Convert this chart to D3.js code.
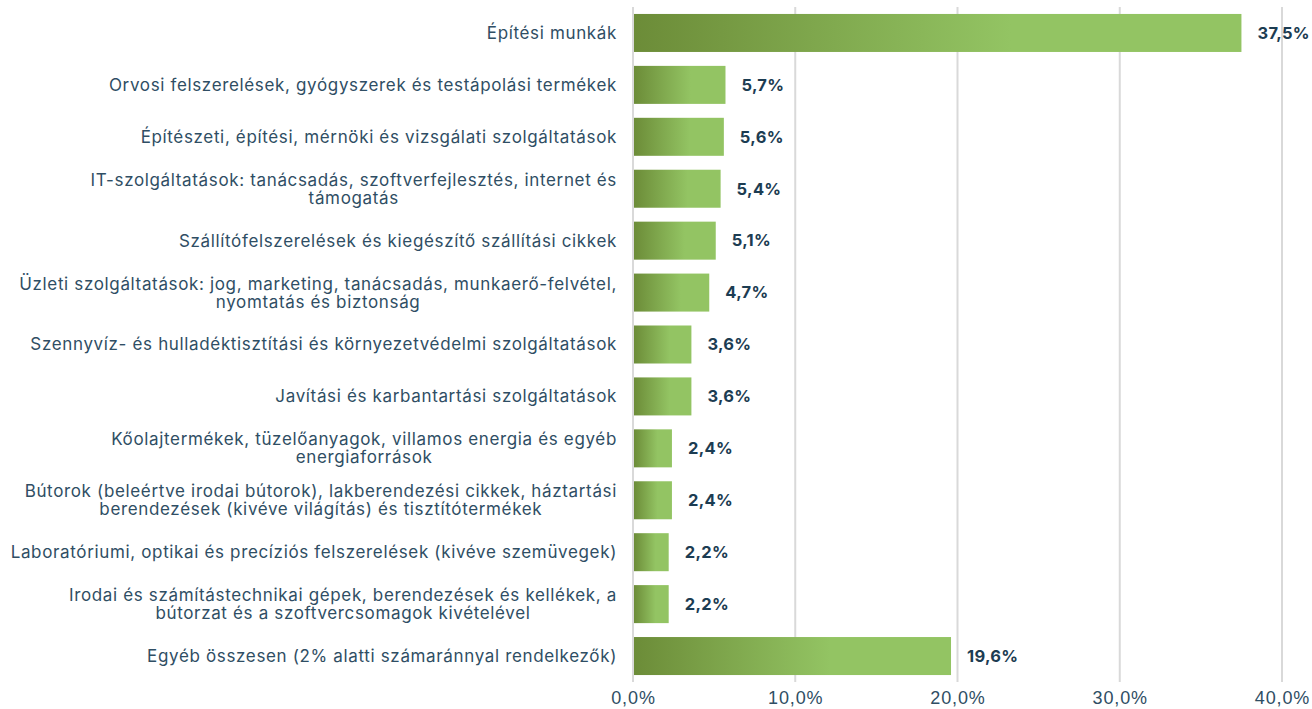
<!DOCTYPE html>
<html>
<head>
<meta charset="utf-8">
<script src="https://cdn.jsdelivr.net/npm/d3@7"></script>
<style>
    body { margin: 0; background: #fff; }
    svg { display: block; font-family: "Inter", "Roboto", sans-serif; }
    .grid line { stroke: #d9d9d9; stroke-width: 2; }
    .cat text { fill: #2f4e64; font-size: 17px; letter-spacing: 0.65px; }
    .val { fill: #1c3c52; font-size: 16.5px; font-weight: 700; letter-spacing: 0.3px; }
    .x-axis text { fill: #2f4e64; font-size: 18px; letter-spacing: 0.9px; }
</style>
</head>
<body>
<svg id="chart" width="1312" height="709"></svg>
<script>
// categories, one string per bar, "\n" marks a line break
var categories = [
    "Építési munkák",
    "Orvosi felszerelések, gyógyszerek és testápolási termékek",
    "Építészeti, építési, mérnöki és vizsgálati szolgáltatások",
    "IT-szolgáltatások: tanácsadás, szoftverfejlesztés, internet és\ntámogatás",
    "Szállítófelszerelések és kiegészítő szállítási cikkek",
    "Üzleti szolgáltatások: jog, marketing, tanácsadás, munkaerő-felvétel,\nnyomtatás és biztonság",
    "Szennyvíz- és hulladéktisztítási és környezetvédelmi szolgáltatások",
    "Javítási és karbantartási szolgáltatások",
    "Kőolajtermékek, tüzelőanyagok, villamos energia és egyéb\nenergiaforrások",
    "Bútorok (beleértve irodai bútorok), lakberendezési cikkek, háztartási\nberendezések (kivéve világítás) és tisztítótermékek",
    "Laboratóriumi, optikai és precíziós felszerelések (kivéve szemüvegek)",
    "Irodai és számítástechnikai gépek, berendezések és kellékek, a\nbútorzat és a szoftvercsomagok kivételével",
    "Egyéb összesen (2% alatti számaránnyal rendelkezők)"
];
var shares = [37.5, 5.7, 5.6, 5.4, 5.1, 4.7, 3.6, 3.6, 2.4, 2.4, 2.2, 2.2, 19.6];
var xTicks = [0, 10, 20, 30, 40];

var svg = d3.select("#chart");

var x = d3.scaleLinear().domain([0, 40]).range([633, 1282]);
var y = d3.scaleBand()
    .domain(d3.range(categories.length))
    .range([7, 682])
    .paddingInner(0.268)
    .paddingOuter(0.134);

var fmt = function (v) { return d3.format(".1f")(v).replace(".", ",") + "%"; };

var defs = svg.append("defs");
var grad = defs.append("linearGradient")
    .attr("id", "barGrad")
    .attr("x1", "0%").attr("x2", "100%")
    .attr("y1", "0%").attr("y2", "0%");
grad.append("stop").attr("offset", "0%").attr("stop-color", "#6c8c38");
grad.append("stop").attr("offset", "62%").attr("stop-color", "#93c463");
grad.append("stop").attr("offset", "100%").attr("stop-color", "#93c463");

// vertical gridlines
svg.append("g").attr("class", "grid")
    .selectAll("line")
    .data(xTicks)
    .enter().append("line")
    .attr("x1", function (d) { return x(d); })
    .attr("x2", function (d) { return x(d); })
    .attr("y1", 7)
    .attr("y2", 682);

// bars
svg.append("g").selectAll("rect")
    .data(shares)
    .enter().append("rect")
    .attr("x", x(0) + 1)
    .attr("y", function (d, i) { return y(i); })
    .attr("width", function (d) { return x(d) - x(0) - 1; })
    .attr("height", y.bandwidth())
    .attr("fill", "url(#barGrad)");

// value labels
svg.append("g").selectAll("text")
    .data(shares)
    .enter().append("text")
    .attr("class", "val")
    .attr("x", function (d) { return x(d) + 16; })
    .attr("y", function (d, i) { return y(i) + y.bandwidth() / 2; })
    .attr("dy", "0.35em")
    .text(fmt);

// category labels, centred lines, right edge at the axis
var lineH = 18;
var cats = svg.append("g").attr("class", "cat")
    .selectAll("text")
    .data(categories)
    .enter().append("text")
    .attr("text-anchor", "middle")
    .attr("y", function (d, i) { return y(i) + y.bandwidth() / 2; });

cats.each(function (d) {
    var lines = d.split("\n");
    var t = d3.select(this);
    var spans = t.selectAll("tspan")
        .data(lines)
        .enter().append("tspan")
        .attr("dy", function (l, j) {
            return j === 0 ? (0.35 * 17 - (lines.length - 1) * lineH / 2) + "px" : lineH + "px";
        })
        .text(function (l) { return l; });
    // centre all lines on the widest one, whose right edge sits at 617
    var w = d3.max(spans.nodes(), function (n) { return n.getComputedTextLength(); });
    spans.attr("x", 617 - w / 2);
});

// x axis labels
var xAxis = d3.axisBottom(x)
    .tickValues(xTicks)
    .tickSize(0)
    .tickPadding(0)
    .tickFormat(fmt);

svg.append("g")
    .attr("class", "x-axis")
    .attr("transform", "translate(0,688)")
    .call(xAxis)
    .call(function (g) { g.select(".domain").remove(); })
    .selectAll("text")
    .attr("dy", "0.9em");
</script>
</body>
</html>
